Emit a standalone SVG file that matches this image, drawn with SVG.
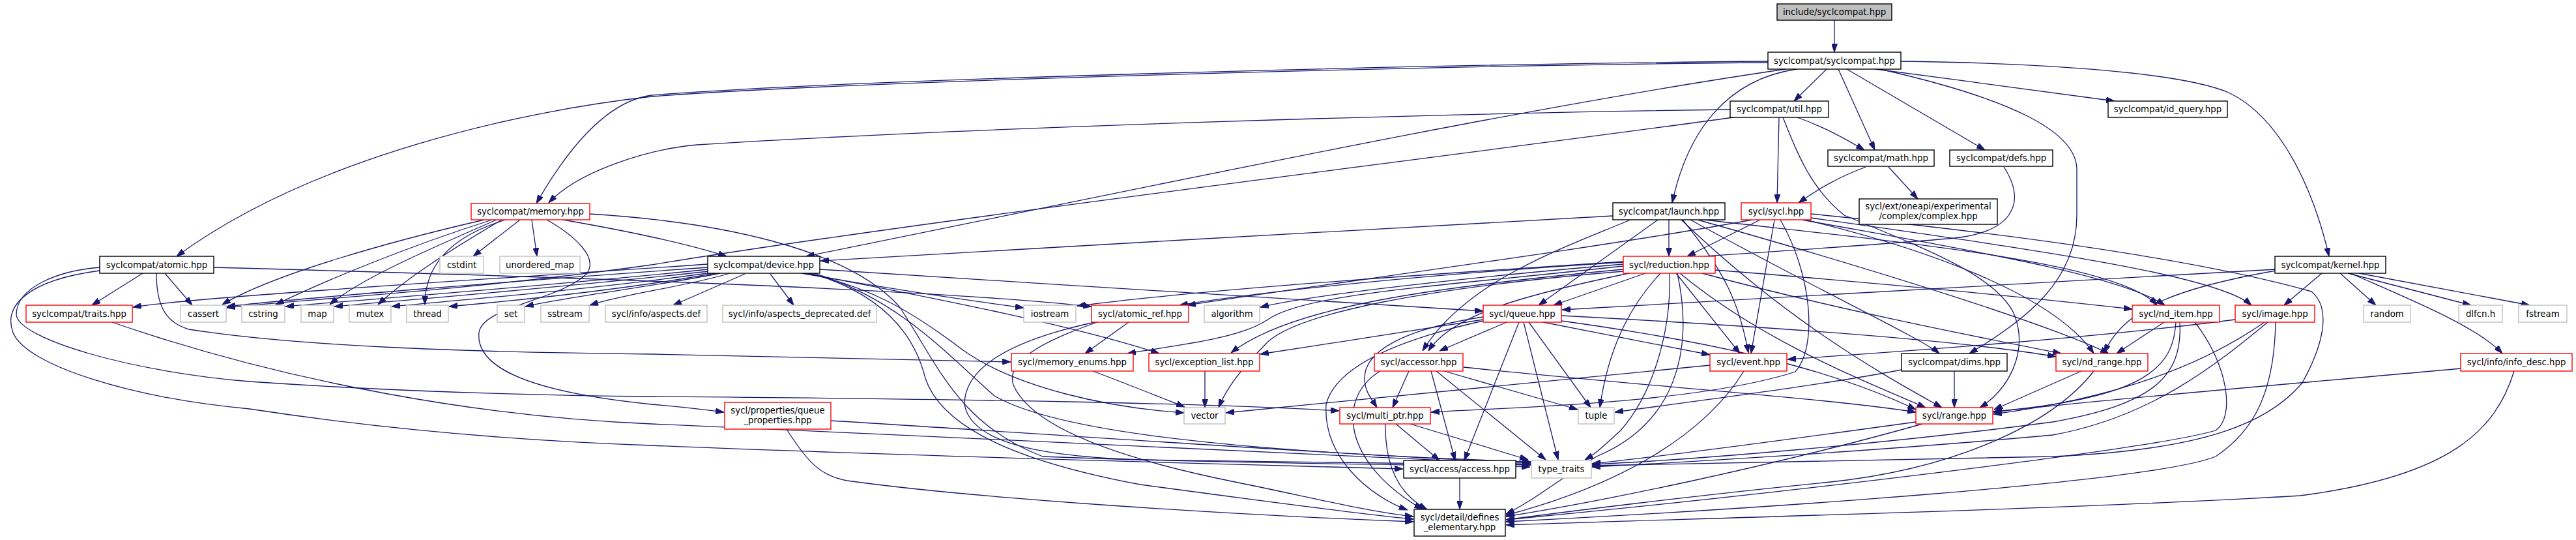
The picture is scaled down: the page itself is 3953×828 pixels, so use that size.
<svg xmlns="http://www.w3.org/2000/svg" width="3953" height="828" viewBox="0 0 3953 828">
<defs>
<marker id="a" viewBox="0 0 13 9" refX="13" refY="4.5" markerWidth="13" markerHeight="9" markerUnits="userSpaceOnUse" orient="auto"><path d="M0,0 L13,4.5 L0,9 z" fill="#191970" stroke="#191970" stroke-width="1"/></marker>
<style>
.n rect{fill:#ffffff;stroke-width:1.4}
.k rect{stroke:#000000}
.r rect{stroke:#ff0000}
.g rect{stroke:#bfbfbf}
.root rect{fill:#bfbfbf;stroke:#000000}
text{font-family:"DejaVu Sans","Liberation Sans",sans-serif;font-size:13.3px;fill:#000000;text-anchor:middle}
#edges path{fill:none;stroke:#191970;stroke-width:1.3;marker-end:url(#a)}
</style>
</defs>
<rect x="0" y="0" width="3953" height="828" fill="#ffffff"/>
<g id="edges">
<path d="M2815,31 L2815,80"/>
<path d="M2803,106 L2753,155"/>
<path d="M2821,106 L2877,230"/>
<path d="M2834,106 L3046,230"/>
<path d="M2878,106 C3000,122 3150,142 3245,155"/>
<path d="M2917,94 C3150,97 3350,112 3420,142 C3500,180 3550,290 3574,393"/>
<path d="M2885,106 C3080,150 3187,200 3187,260 L3187,330 C3187,430 3110,490 3022,542"/>
<path d="M2757,106 C2650,122 2590,200 2566,311"/>
<path d="M2740,106 C2300,170 1700,300 1237,393"/>
<path d="M2713,96 C2200,100 1300,125 1000,148 C800,170 480,240 271,393"/>
<path d="M2713,94 C2200,98 1300,122 1000,146 C930,155 870,230 823,312"/>
<path d="M2655,168 C2200,174 1500,195 1070,222 C1000,228 890,260 842,311"/>
<path d="M2660,180 C2300,230 1400,340 1000,406 C700,448 420,462 348,472"/>
<path d="M2730,180 L2727,311"/>
<path d="M2758,180 C2800,195 2830,212 2861,230"/>
<path d="M2736,180 C2760,240 2780,290 2830,330 C2950,380 3060,420 3090,480 C3115,540 3080,600 3038,625"/>
<path d="M2898,256 L2943,305"/>
<path d="M2863,256 C2820,272 2790,290 2760,311"/>
<path d="M3075,256 C3110,310 3090,355 3000,365 C2700,392 2000,425 1653,469"/>
<path d="M743,337 C600,370 420,420 341,467"/>
<path d="M755,337 C620,380 500,430 423,467"/>
<path d="M762,337 C640,390 550,430 506,467"/>
<path d="M770,337 C680,390 620,430 580,467"/>
<path d="M776,337 C700,360 652,400 652,467"/>
<path d="M798,337 L726,393"/>
<path d="M816,337 L824,393"/>
<path d="M864,337 C950,352 1050,372 1115,393"/>
<path d="M839,337 C880,360 920,395 900,420 C860,460 740,470 735,510 C730,560 800,600 1000,620 C1050,624 1080,628 1111,632"/>
<path d="M905,328 C1100,340 1300,380 1380,470 C1440,560 1470,650 1600,700 C1900,712 2200,712 2348,716"/>
<path d="M219,419 L141,468"/>
<path d="M253,419 L295,468"/>
<path d="M240,419 C240,470 255,495 290,505 C450,530 700,540 1000,543 C1200,546 1400,550 1551,555"/>
<path d="M153,410 C90,415 25,440 25,483 C30,520 200,570 383,585 C600,600 800,606 1000,608 C1500,612 1850,618 2055,630"/>
<path d="M153,415 C40,430 5,470 20,510 C40,560 200,610 383,627 C600,660 800,676 1000,683 C1400,700 1900,712 2153,719"/>
<path d="M328,410 C700,420 1400,440 1675,470"/>
<path d="M172,494 C450,590 750,640 1000,650 C1500,672 2100,700 2349,712"/>
<path d="M1086,405 C800,425 300,455 204,471"/>
<path d="M1086,410 C800,430 450,458 348,470"/>
<path d="M1086,413 C850,438 550,460 438,470"/>
<path d="M1088,416 C850,442 600,462 513,470"/>
<path d="M1092,418 C900,445 680,462 601,470"/>
<path d="M1098,419 C950,445 780,462 689,470"/>
<path d="M1105,419 C1000,440 870,455 806,470"/>
<path d="M1120,419 C1050,440 960,450 905,468"/>
<path d="M1143,420 L1033,468"/>
<path d="M1182,420 L1218,468"/>
<path d="M1230,419 C1350,440 1480,460 1571,472"/>
<path d="M1236,419 C1450,460 1650,500 1779,542"/>
<path d="M1258,413 C1600,435 2000,460 2276,477"/>
<path d="M1239,419 C1330,440 1390,470 1478,537 C1560,595 1700,625 1817,633"/>
<path d="M1250,419 C1380,460 1450,540 1526,607 C1600,650 1800,690 2349,708"/>
<path d="M1245,419 C1340,447 1400,500 1420,580 C1440,640 1520,700 1750,743 C1950,770 2100,790 2169,796"/>
<path d="M1275,645 C1600,665 2100,700 2349,710"/>
<path d="M1207,658 C1240,710 1260,730 1300,737 C1500,765 1900,790 2169,800"/>
<path d="M1732,494 L1665,542"/>
<path d="M1680,494 C1560,520 1480,560 1480,620 C1490,680 1600,700 1750,705 C2000,710 2250,710 2349,713"/>
<path d="M1684,494 C1580,530 1545,560 1555,590 C1580,650 1700,700 1900,740 C2000,760 2100,785 2169,792"/>
<path d="M1677,569 C1720,585 1770,605 1818,624"/>
<path d="M1849,569 L1849,625"/>
<path d="M2312,494 L2209,538"/>
<path d="M2368,494 C2450,510 2550,530 2624,544"/>
<path d="M2346,494 L2441,625"/>
<path d="M2331,494 L2247,706"/>
<path d="M2338,494 L2391,705"/>
<path d="M2276,486 C2150,505 2094,540 2094,580 C2094,600 2105,612 2113,625"/>
<path d="M2276,490 C2150,510 2050,525 1934,543"/>
<path d="M2276,492 C2150,520 2050,560 2035,620 C2030,700 2100,760 2160,782"/>
<path d="M2396,492 C2600,520 2800,560 2940,628"/>
<path d="M2396,484 C2700,500 3000,520 3155,547"/>
<path d="M2525,419 L2384,468"/>
<path d="M2500,419 C2350,450 2230,480 2192,538"/>
<path d="M2572,419 L2670,542"/>
<path d="M2548,419 C2510,460 2470,520 2455,625"/>
<path d="M2562,419 C2565,500 2540,600 2487,660 C2465,680 2450,695 2432,705"/>
<path d="M2574,419 C2600,540 2570,650 2450,700 C2400,730 2350,770 2311,788"/>
<path d="M2578,419 C2700,520 2850,580 2955,625"/>
<path d="M2612,419 C2800,470 3000,510 3163,542"/>
<path d="M2632,414 C2900,435 3150,460 3272,474"/>
<path d="M2491,402 C2200,420 1950,445 1810,468"/>
<path d="M2491,405 C2200,430 2000,455 1934,471"/>
<path d="M2491,408 C2200,440 2000,450 1944,491 C1900,520 1800,530 1730,542"/>
<path d="M2491,413 C2200,440 1980,470 1889,541"/>
<path d="M2491,416 C2200,440 1980,480 1940,530 C1900,570 1880,600 1870,625"/>
<path d="M2701,337 L2589,393"/>
<path d="M2723,337 L2687,542"/>
<path d="M2732,337 C2780,420 2790,530 2755,570 C2600,620 2300,625 2196,632"/>
<path d="M2765,337 C3000,380 3250,420 3322,468"/>
<path d="M2770,337 C2950,380 3150,450 3213,542"/>
<path d="M2689,337 C2450,381 2000,440 1822,468"/>
<path d="M2779,334 C3100,380 3400,420 3455,468"/>
<path d="M2779,328 C3100,360 3380,400 3547,447 C3575,470 3570,520 3533,587 C3480,650 3380,690 3150,700 C2800,705 2600,710 2443,714"/>
<path d="M2475,331 C2200,346 1600,380 1259,400"/>
<path d="M2561,337 L2561,393"/>
<path d="M2544,337 L2361,468"/>
<path d="M2502,337 C2400,380 2250,430 2183,538"/>
<path d="M2582,337 C2650,420 2670,470 2683,541"/>
<path d="M2580,337 C2750,500 2900,580 2980,625"/>
<path d="M2594,337 C2800,450 2950,520 2976,542"/>
<path d="M2605,337 C2900,420 3150,500 3236,542"/>
<path d="M2615,337 C2900,370 3250,400 3310,468"/>
<path d="M2676,569 C2620,660 2500,740 2311,790"/>
<path d="M2624,560 C2300,590 2000,620 1881,633"/>
<path d="M2999,569 L2999,625"/>
<path d="M2918,567 C2800,590 2600,615 2478,632"/>
<path d="M3194,569 L3060,628"/>
<path d="M3213,569 C3150,650 3000,720 2800,740 C2600,760 2400,785 2311,797"/>
<path d="M3321,494 L3248,542"/>
<path d="M3339,494 C3335,560 3300,610 3059,631"/>
<path d="M3345,494 C3350,580 3300,620 3150,647 C2900,680 2600,705 2443,712"/>
<path d="M3368,494 C3420,560 3430,640 3400,660 C3300,690 2700,760 2311,797"/>
<path d="M3430,490 C3200,520 2900,540 2743,551"/>
<path d="M3475,494 C3380,560 3250,610 3059,635"/>
<path d="M3480,494 C3400,560 3300,640 3150,667 C2900,690 2600,708 2443,716"/>
<path d="M3492,494 C3490,600 3460,660 3400,700 C3300,740 2700,780 2311,800"/>
<path d="M3563,419 L3505,468"/>
<path d="M3591,419 L3646,468"/>
<path d="M3603,419 L3792,468"/>
<path d="M3620,419 L3882,468"/>
<path d="M3607,419 C3700,460 3800,500 3840,542"/>
<path d="M3492,415 C3350,440 3260,470 3229,541"/>
<path d="M3492,413 C3200,430 2800,455 2397,475"/>
<path d="M3777,565 C3500,590 3200,615 3059,632"/>
<path d="M3858,569 C3830,660 3760,730 3530,760 C3200,780 2600,795 2311,805"/>
<path d="M2142,650 L2209,706"/>
<path d="M2164,650 L2345,705"/>
<path d="M2126,650 C2125,720 2150,760 2190,781"/>
<path d="M2162,569 L2137,625"/>
<path d="M2196,569 L2233,706"/>
<path d="M2204,569 L2372,705"/>
<path d="M2216,569 L2421,628"/>
<path d="M2118,569 C2050,610 2060,710 2183,781"/>
<path d="M2246,563 C2500,590 2800,610 2940,632"/>
<path d="M2240,733 L2240,781"/>
<path d="M2940,647 C2700,680 2550,700 2443,711"/>
<path d="M2950,650 C2700,720 2450,770 2311,792"/>
</g>
<g id="n_root" class="n root"><rect x="2727" y="6" width="176" height="25"/><text x="2815" y="23">include/syclcompat.hpp</text></g>
<g id="n_syclcompat" class="n k"><rect x="2713" y="80" width="204" height="26"/><text x="2815" y="98">syclcompat/syclcompat.hpp</text></g>
<g id="n_util" class="n k"><rect x="2655" y="155" width="151" height="25"/><text x="2730.5" y="172">syclcompat/util.hpp</text></g>
<g id="n_math" class="n k"><rect x="2805" y="230" width="163" height="25"/><text x="2886.5" y="247">syclcompat/math.hpp</text></g>
<g id="n_defs" class="n k"><rect x="2992" y="230" width="158" height="25"/><text x="3071" y="247">syclcompat/defs.hpp</text></g>
<g id="n_complex" class="n k"><rect x="2853" y="305" width="212" height="39"/><text x="2959" y="321">sycl/ext/oneapi/experimental</text><text x="2959" y="336">/complex/complex.hpp</text></g>
<g id="n_id_query" class="n k"><rect x="3235" y="155" width="183" height="25"/><text x="3326.5" y="172">syclcompat/id_query.hpp</text></g>
<g id="n_kernel" class="n k"><rect x="3491" y="393" width="170" height="26"/><text x="3576" y="411">syclcompat/kernel.hpp</text></g>
<g id="n_memory" class="n r"><rect x="723" y="312" width="182" height="25"/><text x="814" y="329">syclcompat/memory.hpp</text></g>
<g id="n_atomic" class="n k"><rect x="153" y="393" width="175" height="26"/><text x="240.5" y="411">syclcompat/atomic.hpp</text></g>
<g id="n_device" class="n k"><rect x="1086" y="393" width="172" height="26"/><text x="1172" y="411">syclcompat/device.hpp</text></g>
<g id="n_launch" class="n k"><rect x="2475" y="311" width="172" height="26"/><text x="2561" y="329">syclcompat/launch.hpp</text></g>
<g id="n_sycl" class="n r"><rect x="2672" y="311" width="107" height="26"/><text x="2725.5" y="329">sycl/sycl.hpp</text></g>
<g id="n_reduction" class="n r"><rect x="2491" y="393" width="141" height="26"/><text x="2561.5" y="411">sycl/reduction.hpp</text></g>
<g id="n_queue" class="n r"><rect x="2276" y="468" width="120" height="26"/><text x="2336" y="486">sycl/queue.hpp</text></g>
<g id="n_accessor" class="n r"><rect x="2109" y="542" width="136" height="27"/><text x="2177" y="560">sycl/accessor.hpp</text></g>
<g id="n_event" class="n r"><rect x="2624" y="542" width="118" height="27"/><text x="2683" y="560">sycl/event.hpp</text></g>
<g id="n_tuple" class="n g"><rect x="2422" y="625" width="55" height="25"/><text x="2449.5" y="642">tuple</text></g>
<g id="n_access" class="n k"><rect x="2154" y="706" width="172" height="27"/><text x="2240" y="724">sycl/access/access.hpp</text></g>
<g id="n_type_traits" class="n g"><rect x="2350" y="706" width="92" height="27"/><text x="2396" y="724">type_traits</text></g>
<g id="n_defines" class="n k"><rect x="2170" y="781" width="140" height="41"/><text x="2240" y="798">sycl/detail/defines</text><text x="2240" y="813">_elementary.hpp</text></g>
<g id="n_multi_ptr" class="n r"><rect x="2056" y="625" width="139" height="25"/><text x="2125.5" y="642">sycl/multi_ptr.hpp</text></g>
<g id="n_vector" class="n g"><rect x="1817" y="625" width="63" height="25"/><text x="1848.5" y="642">vector</text></g>
<g id="n_memory_enums" class="n r"><rect x="1552" y="542" width="187" height="27"/><text x="1645.5" y="560">sycl/memory_enums.hpp</text></g>
<g id="n_exception_list" class="n r"><rect x="1763" y="542" width="170" height="27"/><text x="1848" y="560">sycl/exception_list.hpp</text></g>
<g id="n_atomic_ref" class="n r"><rect x="1675" y="468" width="149" height="26"/><text x="1749.5" y="486">sycl/atomic_ref.hpp</text></g>
<g id="n_algorithm" class="n g"><rect x="1848" y="468" width="85" height="26"/><text x="1890.5" y="486">algorithm</text></g>
<g id="n_iostream" class="n g"><rect x="1571" y="468" width="80" height="26"/><text x="1611" y="486">iostream</text></g>
<g id="n_aspects_deprecated" class="n g"><rect x="1109" y="468" width="236" height="26"/><text x="1227" y="486">sycl/info/aspects_deprecated.def</text></g>
<g id="n_aspects" class="n g"><rect x="929" y="468" width="156" height="26"/><text x="1007" y="486">sycl/info/aspects.def</text></g>
<g id="n_sstream" class="n g"><rect x="830" y="468" width="74" height="26"/><text x="867" y="486">sstream</text></g>
<g id="n_set" class="n g"><rect x="763" y="468" width="42" height="26"/><text x="784" y="486">set</text></g>
<g id="n_thread" class="n g"><rect x="624" y="468" width="64" height="26"/><text x="656" y="486">thread</text></g>
<g id="n_mutex" class="n g"><rect x="536" y="468" width="64" height="26"/><text x="568" y="486">mutex</text></g>
<g id="n_map" class="n g"><rect x="462" y="468" width="50" height="26"/><text x="487" y="486">map</text></g>
<g id="n_cstring" class="n g"><rect x="371" y="468" width="66" height="26"/><text x="404" y="486">cstring</text></g>
<g id="n_cassert" class="n g"><rect x="277" y="468" width="70" height="26"/><text x="312" y="486">cassert</text></g>
<g id="n_traits" class="n r"><rect x="40" y="468" width="163" height="26"/><text x="121.5" y="486">syclcompat/traits.hpp</text></g>
<g id="n_cstdint" class="n g"><rect x="675" y="393" width="67" height="26"/><text x="708.5" y="411">cstdint</text></g>
<g id="n_unordered_map" class="n g"><rect x="767" y="393" width="123" height="26"/><text x="828.5" y="411">unordered_map</text></g>
<g id="n_queue_properties" class="n r"><rect x="1112" y="617" width="163" height="41"/><text x="1193.5" y="634">sycl/properties/queue</text><text x="1193.5" y="649">_properties.hpp</text></g>
<g id="n_nd_item" class="n r"><rect x="3272" y="468" width="134" height="26"/><text x="3339" y="486">sycl/nd_item.hpp</text></g>
<g id="n_dims" class="n k"><rect x="2918" y="542" width="162" height="27"/><text x="2999" y="560">syclcompat/dims.hpp</text></g>
<g id="n_nd_range" class="n r"><rect x="3155" y="542" width="141" height="27"/><text x="3225.5" y="560">sycl/nd_range.hpp</text></g>
<g id="n_range" class="n r"><rect x="2940" y="625" width="118" height="25"/><text x="2999" y="642">sycl/range.hpp</text></g>
<g id="n_image" class="n r"><rect x="3430" y="468" width="122" height="26"/><text x="3491" y="486">sycl/image.hpp</text></g>
<g id="n_random" class="n g"><rect x="3627" y="468" width="72" height="26"/><text x="3663" y="486">random</text></g>
<g id="n_dlfcn" class="n g"><rect x="3773" y="468" width="67" height="26"/><text x="3806.5" y="486">dlfcn.h</text></g>
<g id="n_fstream" class="n g"><rect x="3865" y="468" width="74" height="26"/><text x="3902" y="486">fstream</text></g>
<g id="n_info_desc" class="n r"><rect x="3776" y="542" width="171" height="27"/><text x="3861.5" y="560">sycl/info/info_desc.hpp</text></g>
</svg>
